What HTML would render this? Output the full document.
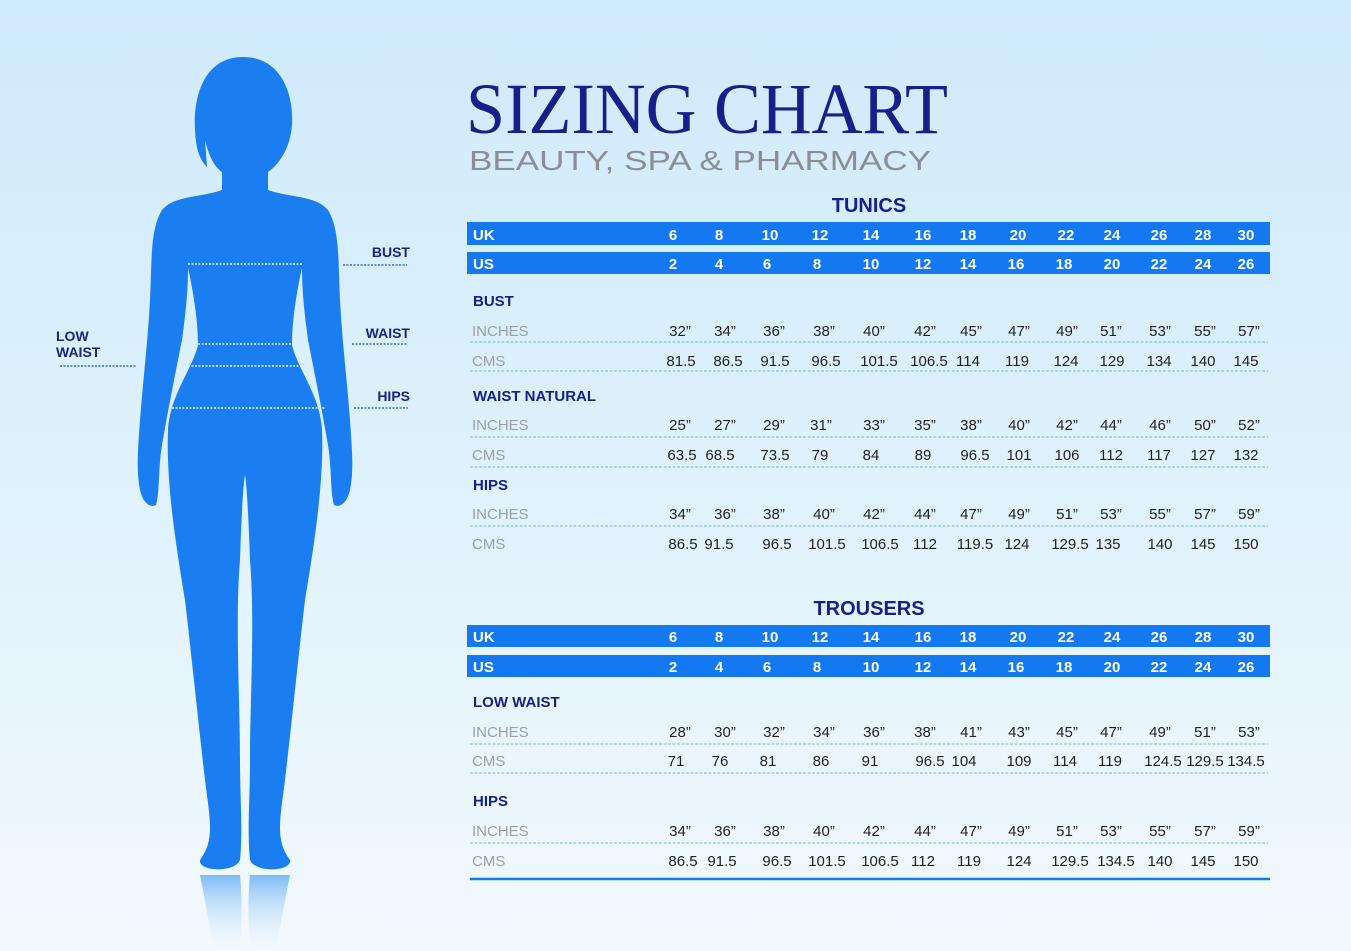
<!DOCTYPE html>
<html><head><meta charset="utf-8"><style>
html,body{margin:0;padding:0}
body{width:1351px;height:951px;overflow:hidden;background:linear-gradient(#cfeafb 0%,#e2f3fc 60%,#f2f9fd 100%);font-family:"Liberation Sans",sans-serif}
svg{position:absolute;left:0;top:0}
</style></head><body>
<svg width="1351" height="951" viewBox="0 0 1351 951" xmlns="http://www.w3.org/2000/svg">
<defs>
<linearGradient id="refl" x1="0" y1="0" x2="0" y2="1"><stop offset="0" stop-color="#7fbcf5"/><stop offset="1" stop-color="#e6f3fc" stop-opacity="0"/></linearGradient>
</defs>
<!-- silhouette -->
<g fill="#1a7ef0">
<path d="M243 57 C205 57 193 95 195 130 C196 150 200 160 207 167 L205 140 C210 160 216 168 222 172 L222 190 C200 198 175 195 162 210 C150 230 152 260 150 300 C148 340 143 380 140 420 C138 450 136 470 140 490 C143 503 150 508 156 505 C160 490 158 470 162 445 C168 410 176 370 182 340 C186 310 188 290 188 268 C193 290 198 320 198 345 C192 370 170 395 168 430 C166 480 175 540 185 600 C192 660 198 720 205 780 C210 820 215 840 200 860 C198 872 235 873 240 860 C243 830 240 800 240 760 C240 700 235 620 240 560 C242 500 244 480 245 475 C246 480 248 500 250 560 C255 620 250 700 250 760 C250 800 247 830 250 860 C255 873 292 872 290 860 C275 840 280 820 285 780 C292 720 298 660 305 600 C315 540 324 480 322 430 C320 395 298 370 292 345 C292 320 297 290 302 268 C302 290 304 310 308 340 C314 370 322 410 328 445 C332 470 330 490 334 505 C340 508 347 503 350 490 C354 470 352 450 350 420 C347 380 342 340 340 300 C338 260 340 230 328 210 C315 195 290 198 268 190 L268 172 C278 165 290 150 292 125 C294 92 280 57 243 57 Z"/>
</g>
<path d="M200 875 C205 900 210 930 215 951 L240 951 C242 920 242 895 240 875 Z M250 875 C248 895 248 920 250 951 L275 951 C280 930 285 900 290 875 Z" fill="url(#refl)"/>
<g stroke="#e8f4fd" stroke-width="1.5" stroke-dasharray="2 1.5" fill="none">
<line x1="188" y1="264" x2="302" y2="264"/><line x1="198" y1="344" x2="294" y2="344"/><line x1="188" y1="366" x2="302" y2="366"/><line x1="172" y1="408" x2="326" y2="408"/>
</g>
<g stroke="#2a6fd0" stroke-width="1.5" stroke-dasharray="2 1.5" fill="none">
<line x1="343" y1="265" x2="407" y2="265"/><line x1="352" y1="344" x2="408" y2="344"/><line x1="60" y1="366" x2="137" y2="366"/><line x1="354" y1="408" x2="408" y2="408"/>
</g>
<g fill="#1a237e" font-weight="bold" font-size="14">
<text x="410" y="257" text-anchor="end">BUST</text><text x="410" y="338" text-anchor="end">WAIST</text><text x="410" y="401" text-anchor="end">HIPS</text>
<text x="56" y="341">LOW</text><text x="56" y="357">WAIST</text>
</g>
<!-- titles -->
<text x="466" y="133" font-family="Liberation Serif,serif" font-size="72" fill="#15208a" textLength="482" lengthAdjust="spacingAndGlyphs">SIZING CHART</text>
<text x="469" y="170" font-size="28" fill="#8a8f96" textLength="462" lengthAdjust="spacingAndGlyphs">BEAUTY, SPA &amp; PHARMACY</text>
<g fill="#15208a" font-weight="bold" font-size="20" text-anchor="middle">
<text x="869" y="212">TUNICS</text><text x="869" y="615">TROUSERS</text>
</g>
<!-- bars -->
<g fill="#1478f0">
<rect x="467" y="222" width="803" height="23"/><rect x="467" y="252" width="803" height="22"/>
<rect x="467" y="625" width="803" height="22"/><rect x="467" y="655" width="803" height="22"/>
</g>
<g fill="#fff" font-weight="bold" font-size="15">
<text x="473" y="240">UK</text><text x="473" y="269">US</text><text x="473" y="642">UK</text><text x="473" y="672">US</text>
</g>
<g id="cols" fill="#fff" font-weight="bold" font-size="15" text-anchor="middle">
<text y="240"><tspan x="673">6</tspan><tspan x="719">8</tspan><tspan x="770">10</tspan><tspan x="820">12</tspan><tspan x="871">14</tspan><tspan x="923">16</tspan><tspan x="968">18</tspan><tspan x="1018">20</tspan><tspan x="1066">22</tspan><tspan x="1112">24</tspan><tspan x="1159">26</tspan><tspan x="1203">28</tspan><tspan x="1246">30</tspan></text>
<text y="269"><tspan x="673">2</tspan><tspan x="719">4</tspan><tspan x="767">6</tspan><tspan x="817">8</tspan><tspan x="871">10</tspan><tspan x="923">12</tspan><tspan x="968">14</tspan><tspan x="1016">16</tspan><tspan x="1064">18</tspan><tspan x="1112">20</tspan><tspan x="1159">22</tspan><tspan x="1203">24</tspan><tspan x="1246">26</tspan></text>
<text y="642"><tspan x="673">6</tspan><tspan x="719">8</tspan><tspan x="770">10</tspan><tspan x="820">12</tspan><tspan x="871">14</tspan><tspan x="923">16</tspan><tspan x="968">18</tspan><tspan x="1018">20</tspan><tspan x="1066">22</tspan><tspan x="1112">24</tspan><tspan x="1159">26</tspan><tspan x="1203">28</tspan><tspan x="1246">30</tspan></text>
<text y="672"><tspan x="673">2</tspan><tspan x="719">4</tspan><tspan x="767">6</tspan><tspan x="817">8</tspan><tspan x="871">10</tspan><tspan x="923">12</tspan><tspan x="968">14</tspan><tspan x="1016">16</tspan><tspan x="1064">18</tspan><tspan x="1112">20</tspan><tspan x="1159">22</tspan><tspan x="1203">24</tspan><tspan x="1246">26</tspan></text>
</g>
<g fill="#15208a" font-weight="bold" font-size="15">
<text x="473" y="306">BUST</text><text x="473" y="401">WAIST NATURAL</text><text x="473" y="490">HIPS</text>
<text x="473" y="707">LOW WAIST</text><text x="473" y="806">HIPS</text>
</g>
<g fill="#9aa0a6" font-size="15">
<text x="472" y="336">INCHES</text><text x="472" y="366">CMS</text>
<text x="472" y="430">INCHES</text><text x="472" y="460">CMS</text>
<text x="472" y="519">INCHES</text><text x="472" y="549">CMS</text>
<text x="472" y="737">INCHES</text><text x="472" y="766">CMS</text>
<text x="472" y="836">INCHES</text><text x="472" y="866">CMS</text>
</g>
<g stroke="#7fb3e6" stroke-width="1" stroke-dasharray="3 1.5">
<line x1="470" y1="342" x2="1268" y2="342"/><line x1="470" y1="371" x2="1268" y2="371"/>
<line x1="470" y1="437" x2="1268" y2="437"/><line x1="470" y1="467" x2="1268" y2="467"/>
<line x1="470" y1="526" x2="1268" y2="526"/>
<line x1="470" y1="744" x2="1268" y2="744"/><line x1="470" y1="773" x2="1268" y2="773"/>
<line x1="470" y1="843" x2="1268" y2="843"/>
</g>
<line x1="470" y1="879" x2="1270" y2="879" stroke="#1478f0" stroke-width="2.5"/>
<g fill="#222" font-size="15" text-anchor="middle">
<text y="336"><tspan x="680">32”</tspan><tspan x="725">34”</tspan><tspan x="774">36”</tspan><tspan x="824">38”</tspan><tspan x="874">40”</tspan><tspan x="925">42”</tspan><tspan x="971">45”</tspan><tspan x="1019">47”</tspan><tspan x="1067">49”</tspan><tspan x="1111">51”</tspan><tspan x="1160">53”</tspan><tspan x="1205">55”</tspan><tspan x="1249">57”</tspan></text>
<text y="366"><tspan x="681">81.5</tspan><tspan x="728">86.5</tspan><tspan x="775">91.5</tspan><tspan x="826">96.5</tspan><tspan x="879">101.5</tspan><tspan x="929">106.5</tspan><tspan x="968">114</tspan><tspan x="1017">119</tspan><tspan x="1066">124</tspan><tspan x="1112">129</tspan><tspan x="1159">134</tspan><tspan x="1203">140</tspan><tspan x="1246">145</tspan></text>
<text y="430"><tspan x="680">25”</tspan><tspan x="725">27”</tspan><tspan x="774">29”</tspan><tspan x="821">31”</tspan><tspan x="874">33”</tspan><tspan x="925">35”</tspan><tspan x="971">38”</tspan><tspan x="1019">40”</tspan><tspan x="1067">42”</tspan><tspan x="1111">44”</tspan><tspan x="1160">46”</tspan><tspan x="1205">50”</tspan><tspan x="1249">52”</tspan></text>
<text y="460"><tspan x="682">63.5</tspan><tspan x="720">68.5</tspan><tspan x="775">73.5</tspan><tspan x="820">79</tspan><tspan x="871">84</tspan><tspan x="923">89</tspan><tspan x="975">96.5</tspan><tspan x="1019">101</tspan><tspan x="1067">106</tspan><tspan x="1111">112</tspan><tspan x="1159">117</tspan><tspan x="1203">127</tspan><tspan x="1246">132</tspan></text>
<text y="519"><tspan x="680">34”</tspan><tspan x="725">36”</tspan><tspan x="774">38”</tspan><tspan x="824">40”</tspan><tspan x="874">42”</tspan><tspan x="925">44”</tspan><tspan x="971">47”</tspan><tspan x="1019">49”</tspan><tspan x="1067">51”</tspan><tspan x="1111">53”</tspan><tspan x="1160">55”</tspan><tspan x="1205">57”</tspan><tspan x="1249">59”</tspan></text>
<text y="549"><tspan x="683">86.5</tspan><tspan x="719">91.5</tspan><tspan x="777">96.5</tspan><tspan x="827">101.5</tspan><tspan x="880">106.5</tspan><tspan x="925">112</tspan><tspan x="975">119.5</tspan><tspan x="1017">124</tspan><tspan x="1070">129.5</tspan><tspan x="1108">135</tspan><tspan x="1160">140</tspan><tspan x="1203">145</tspan><tspan x="1246">150</tspan></text>
<text y="737"><tspan x="680">28”</tspan><tspan x="725">30”</tspan><tspan x="774">32”</tspan><tspan x="824">34”</tspan><tspan x="874">36”</tspan><tspan x="925">38”</tspan><tspan x="971">41”</tspan><tspan x="1019">43”</tspan><tspan x="1067">45”</tspan><tspan x="1111">47”</tspan><tspan x="1160">49”</tspan><tspan x="1205">51”</tspan><tspan x="1249">53”</tspan></text>
<text y="766"><tspan x="676">71</tspan><tspan x="720">76</tspan><tspan x="768">81</tspan><tspan x="821">86</tspan><tspan x="870">91</tspan><tspan x="930">96.5</tspan><tspan x="964">104</tspan><tspan x="1019">109</tspan><tspan x="1065">114</tspan><tspan x="1110">119</tspan><tspan x="1163">124.5</tspan><tspan x="1205">129.5</tspan><tspan x="1246">134.5</tspan></text>
<text y="836"><tspan x="680">34”</tspan><tspan x="725">36”</tspan><tspan x="774">38”</tspan><tspan x="824">40”</tspan><tspan x="874">42”</tspan><tspan x="925">44”</tspan><tspan x="971">47”</tspan><tspan x="1019">49”</tspan><tspan x="1067">51”</tspan><tspan x="1111">53”</tspan><tspan x="1160">55”</tspan><tspan x="1205">57”</tspan><tspan x="1249">59”</tspan></text>
<text y="866"><tspan x="683">86.5</tspan><tspan x="722">91.5</tspan><tspan x="777">96.5</tspan><tspan x="827">101.5</tspan><tspan x="880">106.5</tspan><tspan x="923">112</tspan><tspan x="969">119</tspan><tspan x="1019">124</tspan><tspan x="1070">129.5</tspan><tspan x="1116">134.5</tspan><tspan x="1160">140</tspan><tspan x="1203">145</tspan><tspan x="1246">150</tspan></text>
</g>
</svg>
</body></html>
